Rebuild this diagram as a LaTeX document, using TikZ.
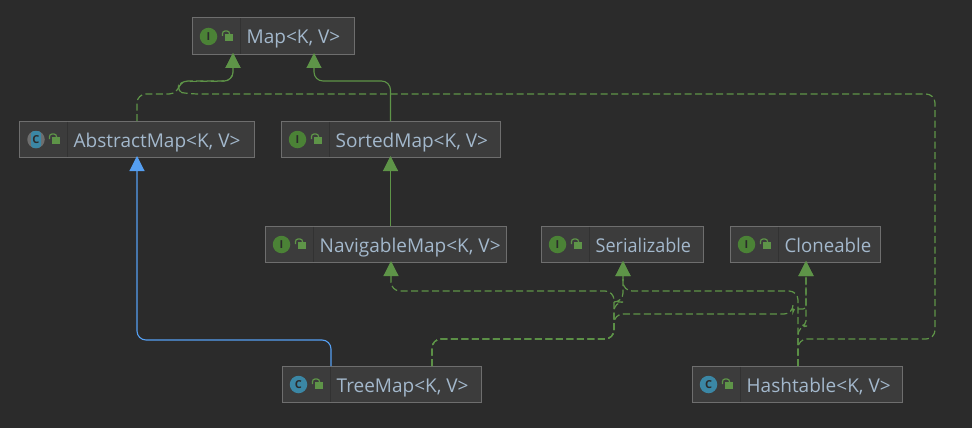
\documentclass[tikz,border=0pt]{standalone}
\usepackage{fontspec}
\setmainfont{Open Sans}
\usetikzlibrary{arrows.meta}
\definecolor{canvas}{HTML}{2B2B2B}
\definecolor{cellfill}{HTML}{3C3C3C}
\definecolor{celledge}{HTML}{6E6E6E}
\definecolor{celltext}{HTML}{A3B8CC}
\definecolor{inherit}{HTML}{5E9448}
\definecolor{extend}{HTML}{559FF2}
\definecolor{ifaceicon}{HTML}{4B8236}
\definecolor{classicon}{HTML}{3B87A5}
\tikzset{
    cell/.style={draw=celledge, fill=cellfill, line width=1pt, anchor=north west, minimum height=36.5pt, inner sep=0pt, outer sep=0pt},
    celllabel/.style={anchor=base west, text=celltext, font=\fontsize{19}{21}\selectfont, inner sep=0pt},
    iface/.style={circle, fill=ifaceicon, minimum size=17.5pt, inner sep=0pt, text=canvas, font=\fontsize{11}{11}\bfseries\selectfont},
    klass/.style={circle, fill=classicon, minimum size=17.5pt, inner sep=0pt, text=canvas, font=\fontsize{11}{11}\bfseries\selectfont},
    dep/.style={draw=inherit, line width=1.2pt, dash pattern=on 7pt off 3.5pt, rounded corners=9pt, -{Triangle[length=15pt,width=15pt,fill=inherit]}},
    solid dep/.style={draw=inherit, line width=1.1pt, rounded corners=9pt, -{Triangle[length=15pt,width=15pt,fill=inherit]}},
    blue dep/.style={draw=extend, line width=1.1pt, rounded corners=9pt, -{Triangle[length=15pt,width=15pt,fill=extend]}},
    lock/.pic={
        \fill[inherit] (0,0) rectangle (7.5,7);
        \draw[inherit, line width=1.2pt, rounded corners=2.5pt] (-2.5,2) -- (-2.5,-3) -- (4.5,-3) -- (4.5,0);
    },
}
\begin{document}
\begin{tikzpicture}[x=1pt,y=-1pt]
    % the page
    \fill[canvas] (0,0) rectangle (972,428);
    \useasboundingbox (0,0) rectangle (972,428);

    % the Map box
    \node[cell, minimum width=162pt] (map) at (192.5,18) {};
    \draw[canvas!60!cellfill] (240.5,18.5) -- (240.5,54);
    \node[iface] (map-icon) at (208.5,36.5) {I};
    \pic at (225,34) {lock};
    \node[celllabel] (map-label) at (246.5,44) {Map<K, V>};

    % the AbstractMap box
    \node[cell, minimum width=235pt] (abstract) at (19.5,121) {};
    \draw[canvas!60!cellfill] (67.5,121.5) -- (67.5,157);
    \node[circle, fill=celledge, minimum size=17.5pt, inner sep=0pt] (abstract-ring) at (36,139.5) {};
    \node[fill=classicon, rounded corners=3pt, minimum width=10pt, minimum height=17pt, inner sep=0pt, text=canvas, font=\fontsize{11}{11}\bfseries\selectfont] (abstract-icon) at (36,139.5) {C};
    \pic at (52,137) {lock};
    \node[celllabel] (abstract-label) at (73.5,147) {AbstractMap<K, V>};

    % the SortedMap box
    \node[cell, minimum width=219pt] (sorted) at (281.5,121) {};
    \draw[canvas!60!cellfill] (329.5,121.5) -- (329.5,157);
    \node[iface] (sorted-icon) at (297.5,139.5) {I};
    \pic at (314,137) {lock};
    \node[celllabel] (sorted-label) at (335.5,147) {SortedMap<K, V>};

    % the NavigableMap box
    \node[cell, minimum width=241pt] (navigable) at (265.5,226) {};
    \draw[canvas!60!cellfill] (313.5,226.5) -- (313.5,262);
    \node[iface] (navigable-icon) at (281.5,244.5) {I};
    \pic at (298,242) {lock};
    \node[celllabel] (navigable-label) at (319.5,252) {NavigableMap<K, V>};

    % the Serializable box
    \node[cell, minimum width=162pt] (serial) at (541.5,226) {};
    \draw[canvas!60!cellfill] (589.5,226.5) -- (589.5,262);
    \node[iface] (serial-icon) at (557.5,244.5) {I};
    \pic at (574,242) {lock};
    \node[celllabel] (serial-label) at (595.5,252) {\addfontfeature{FakeStretch=0.95}Serializable};

    % the Cloneable box
    \node[cell, minimum width=150pt] (clone) at (730.5,226) {};
    \draw[canvas!60!cellfill] (778.5,226.5) -- (778.5,262);
    \node[iface] (clone-icon) at (746.5,244.5) {I};
    \pic at (763,242) {lock};
    \node[celllabel] (clone-label) at (784.5,252) {\addfontfeature{FakeStretch=0.98}Cloneable};

    % the TreeMap box
    \node[cell, minimum width=199pt] (tree) at (282.5,366) {};
    \draw[canvas!60!cellfill] (330.5,366.5) -- (330.5,402);
    \node[klass] (tree-icon) at (298.5,384.5) {C};
    \pic at (315,382) {lock};
    \node[celllabel] (tree-label) at (336.5,392) {TreeMap<K, V>};

    % the Hashtable box
    \node[cell, minimum width=210pt] (hash) at (692.5,366) {};
    \draw[canvas!60!cellfill] (740.5,366.5) -- (740.5,402);
    \node[klass] (hash-icon) at (708.5,384.5) {C};
    \pic at (725,382) {lock};
    \node[celllabel] (hash-label) at (746.5,392) {Hashtable<K, V>};

    % arrows up to Map
    \draw[solid dep] ([xshift=-0.5pt]sorted.north) -- (390.5,81) -- (314,81) -- ([xshift=40.5pt,yshift=1.5pt]map.south);
    \draw[dep] (abstract.north) -- (137,94) -- (178,94) [rounded corners=5pt] -- (180,81.5) [rounded corners=9pt] -- (233,81) -- ([xshift=-40.5pt,yshift=1.5pt]map.south);
    \draw[dep] ([xshift=0.5pt]hash.north) -- (798,339) -- (935,339) -- (935,94) -- (190,94) [rounded corners=5pt] -- (178,92) [rounded corners=9pt] -- (179,81) -- (233,81) -- ([xshift=-40.5pt,yshift=1.5pt]map.south);

    % arrows of the sorted chain
    \draw[solid dep] ([xshift=4.5pt]navigable.north) -- ([xshift=-0.5pt,yshift=1.5pt]sorted.south);
    \draw[blue dep] ([xshift=-51pt]tree.north) -- (331,340) -- (137,340) -- ([yshift=1.5pt]abstract.south);

    % TreeMap dependencies
    \draw[dep] ([xshift=50pt]tree.north) -- (432,339) -- (614,339) -- (614,291) -- (391,291) -- ([xshift=5pt,yshift=1.5pt]navigable.south);
    \draw[dep] ([xshift=50pt]tree.north) -- (432,339) -- (614,339) -- (614,302) -- (623,302) -- ([xshift=0.5pt,yshift=1.5pt]serial.south);
    \draw[dep] ([xshift=50pt]tree.north) -- (432,339) -- (614,339) -- (614,314) -- (793,314) [rounded corners=3pt] -- (793,309) -- (806,309) -- ([xshift=0.5pt,yshift=1.5pt]clone.south);

    % Hashtable dependencies
    \draw[dep] ([xshift=0.5pt]hash.north) -- (798,291) -- (623,291) -- ([xshift=0.5pt,yshift=1.5pt]serial.south);
    \draw[dep] ([xshift=0.5pt]hash.north) -- (798,326) [rounded corners=5pt] -- (806,326) -- ([xshift=0.5pt,yshift=1.5pt]clone.south);
\end{tikzpicture}
\end{document}
